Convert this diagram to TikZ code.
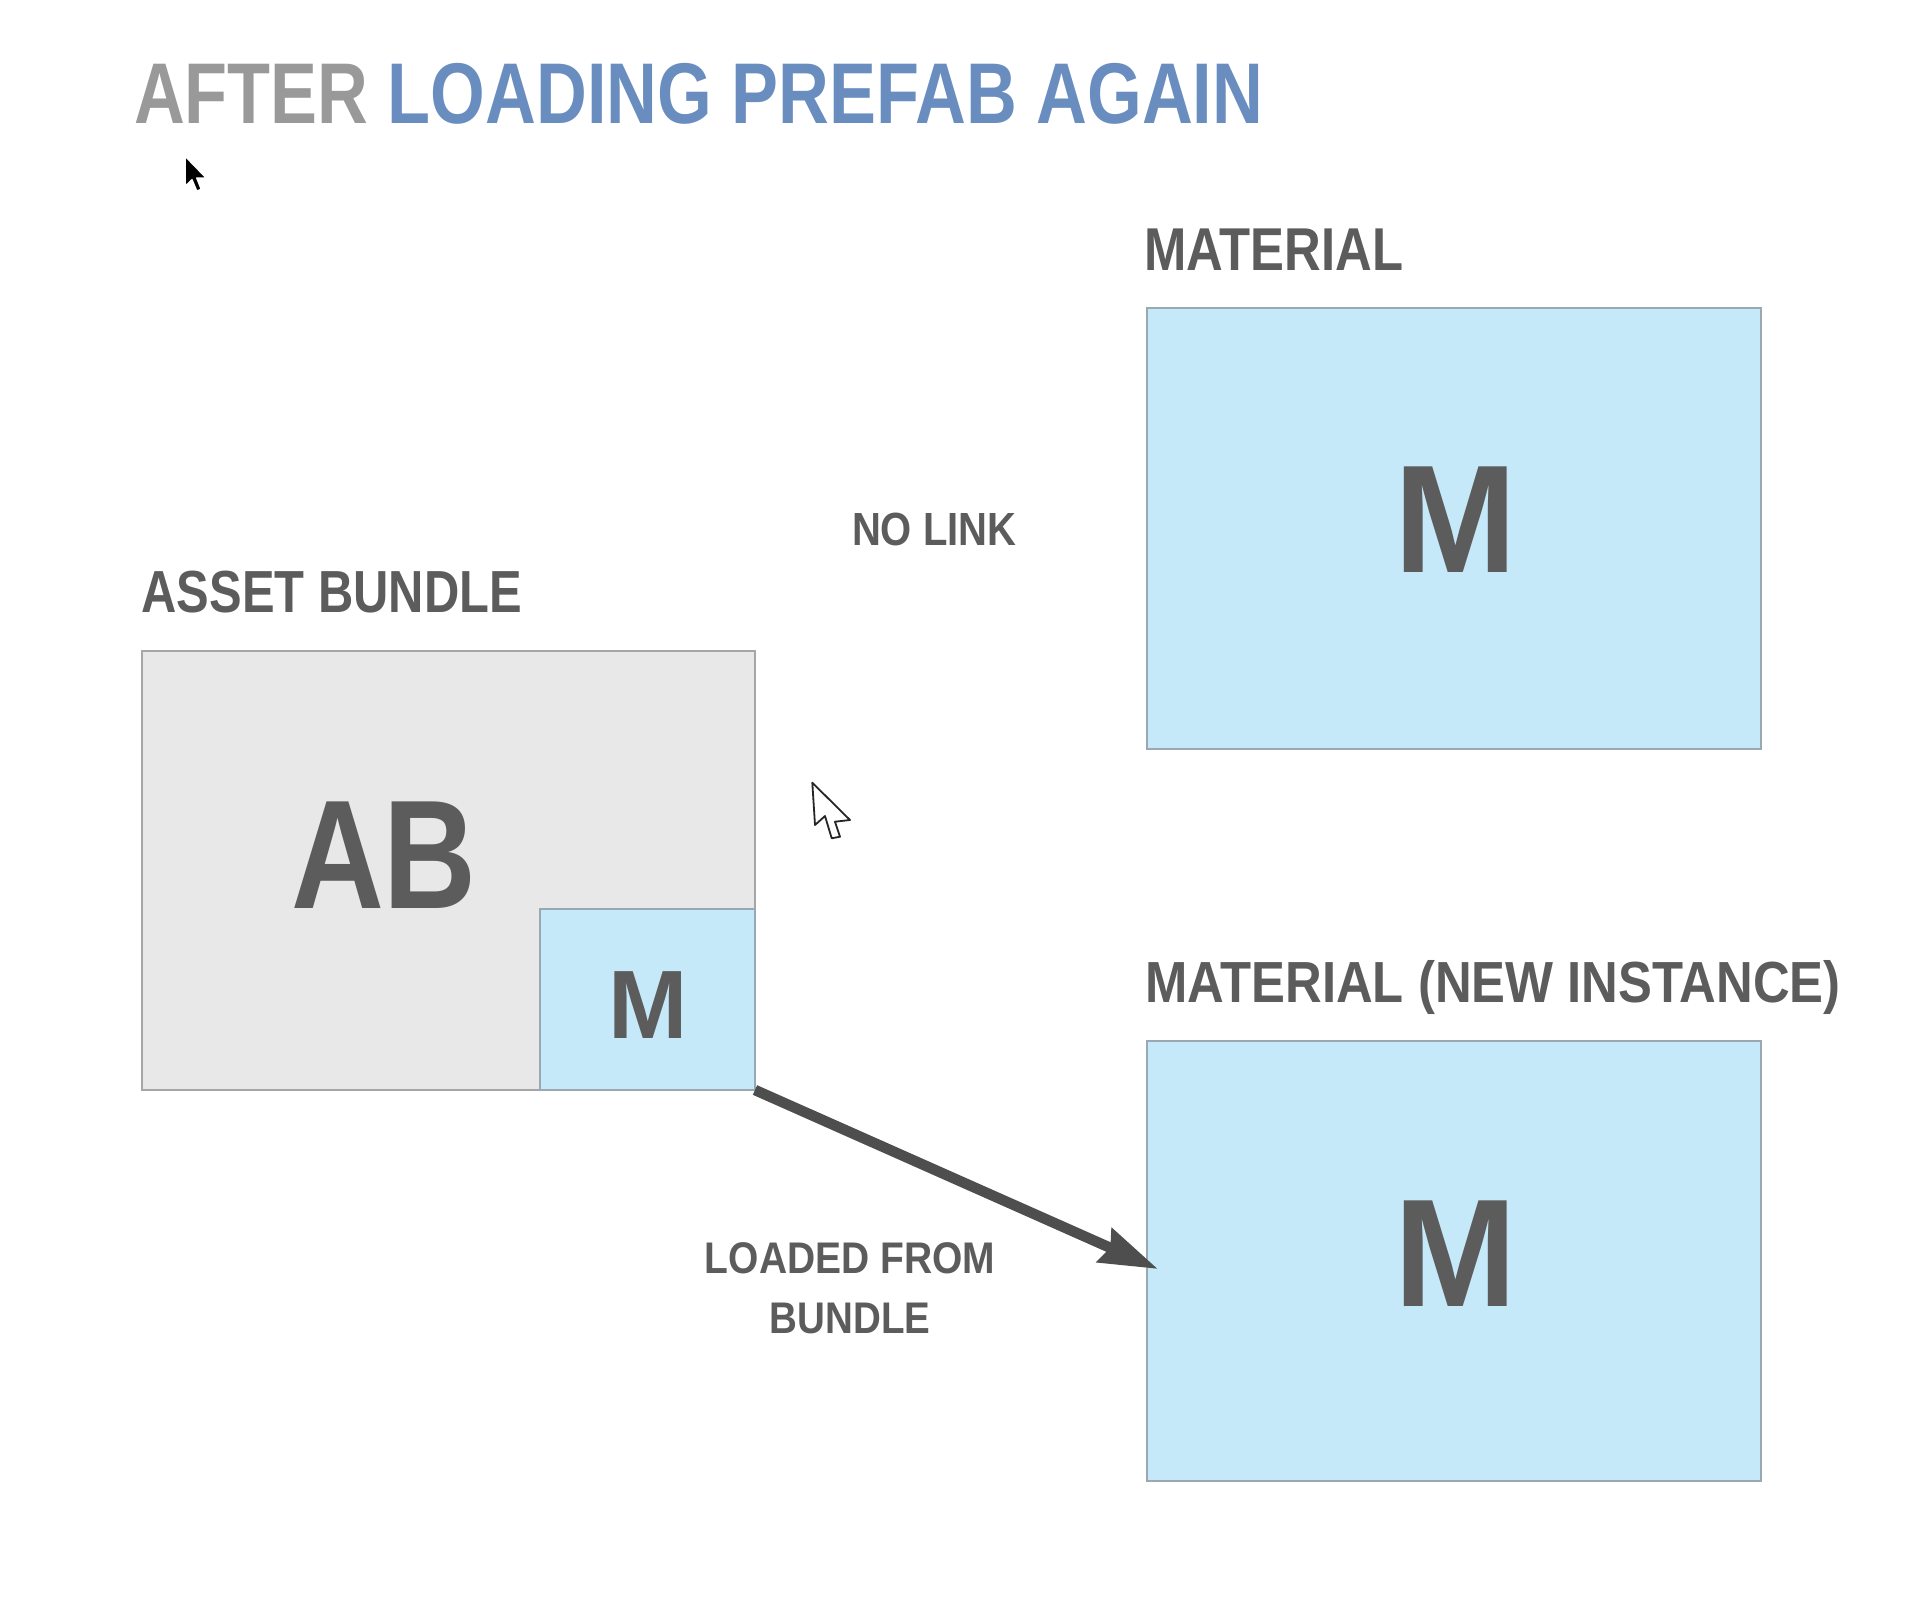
\documentclass[tikz,border=0pt]{standalone}
\usepackage{fontspec}
\setmainfont{Liberation Sans}
\usetikzlibrary{arrows.meta,calc}
\definecolor{txtgray}{HTML}{5C5C5C}
\definecolor{ttlgray}{HTML}{999999}
\definecolor{ttlblue}{HTML}{6A8DC0}
\definecolor{abfill}{HTML}{E8E8E8}
\definecolor{abdraw}{HTML}{A6A6A6}
\definecolor{mfill}{HTML}{C6E9F9}
\definecolor{mdraw}{HTML}{9AA8B2}
\definecolor{arrowc}{HTML}{4E4E4E}
\newcommand\condtxt[3]{\scalebox{#1}[1]{\fontsize{#2pt}{#2pt}\selectfont\bfseries #3}}
\begin{document}
\begin{tikzpicture}[x=1pt,y=-1pt,
  box/.style={inner sep=0pt, outer sep=0pt, line width=2.8pt, anchor=north west},
  abbox/.style={box, fill=abfill, draw=abdraw},
  mbox/.style={box, fill=mfill, draw=mdraw},
  lbl/.style={inner sep=0pt, outer sep=0pt, text=txtgray, anchor=base west},
  mid/.style={inner sep=0pt, outer sep=0pt, text=txtgray, anchor=base},
  link/.style={draw=arrowc, line width=10.5pt, -{Stealth[length=58pt,width=36pt,inset=6pt]}}]
\useasboundingbox (0,0) rectangle (1922,1614);
\fill[white] (0,0) rectangle (1922,1614);

% title
\node[lbl] (title) at (134,123.3) {\condtxt{0.816}{86.2}{\textcolor{ttlgray}{AFTER} \textcolor{ttlblue}{LOADING PREFAB AGAIN}}};

% labels
\node[lbl] (matlbl) at (1144.3,270) {\condtxt{0.84}{60.5}{MATERIAL}};
\node[lbl] (ablbl) at (141.6,612) {\condtxt{0.823}{59.4}{ASSET BUNDLE}};
\node[lbl] (newlbl) at (1145.3,1002) {\condtxt{0.876}{58}{MATERIAL (NEW INSTANCE)}};
\node[lbl] (nolink) at (852,545) {\condtxt{0.86}{46.5}{NO LINK}};

% boxes
\node[abbox, minimum width=613pt, minimum height=439pt] (ab) at (142,651) {};
\node[mbox, minimum width=215pt, minimum height=181pt] (mb) at (540,909) {};
\node[mbox, minimum width=614pt, minimum height=441pt] (mat1) at (1147,308) {};
\node[mbox, minimum width=614pt, minimum height=440pt] (mat2) at (1147,1041) {};

% box letters
\node[mid] (abtxt) at (384,908) {\condtxt{0.83}{155}{AB}};
\node[mid] (mbtxt) at (648,1038) {\condtxt{0.98}{97.2}{M}};
\node[mid] (m1txt) at (1455.5,572) {\condtxt{0.957}{153.6}{M}};
\node[mid] (m2txt) at (1455.5,1306) {\condtxt{0.957}{153.6}{M}};

% connector
\draw[link] (mb.south east) -- ($(mat2.west)+(11,8)$);
\node[mid] (loaded1) at (850,1273.3) {\condtxt{0.88}{44.3}{LOADED FROM}};
\node[mid] (loaded2) at (850,1333.3) {\condtxt{0.87}{44.3}{BUNDLE}};

% mouse pointers
\filldraw[fill=black, draw=white, line width=1.5pt, line join=round, shift={(185,156)}]
  (0,0) -- (0,30.4) -- (7,23.8) -- (11.8,35.2) -- (16.3,33.3) -- (11.8,22) -- (21.3,22) -- cycle;
\filldraw[fill=white, draw=black!85, line width=1.8pt, line join=round]
  (812.3,782.7) -- (815,825) -- (825,816) -- (831.7,838.3) -- (840,836.7) -- (835,821.7) -- (850,820) -- cycle;
\end{tikzpicture}
\end{document}
